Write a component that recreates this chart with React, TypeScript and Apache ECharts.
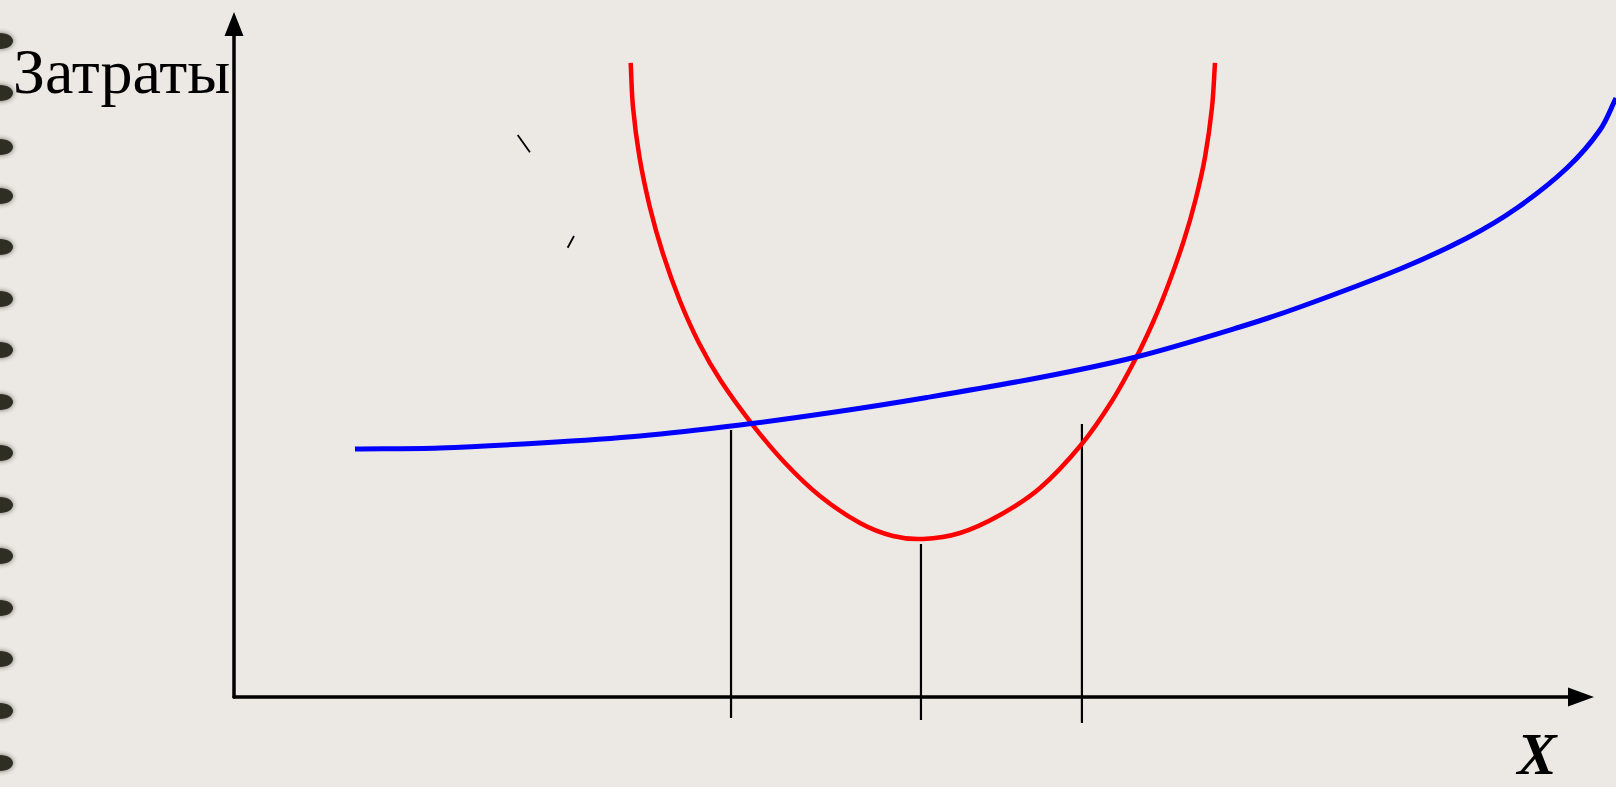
import React, { useEffect, useRef } from "react";
import * as echarts from "echarts";

// Red curve (U-shaped): x = output units, y = cost units
const redX = [29.45, 29.62, 30.1, 30.87, 31.83, 33.08, 34.52, 36.15, 38.46, 40.91, 43.5, 46.47, 48.92, 51.15, 53.9, 56.87, 59.84, 62.88, 65.18, 67.0, 68.3, 69.41, 70.53, 71.38, 72.09, 72.61, 72.83];
const redY = [94.21, 87.67, 80.24, 72.81, 65.97, 58.99, 52.6, 46.95, 40.56, 34.77, 29.87, 25.85, 23.92, 23.48, 24.37, 27.04, 31.05, 37.44, 43.98, 50.52, 56.02, 61.52, 67.9, 73.85, 80.24, 87.67, 94.21];

// Blue curve (rising)
const blueX = [8.98, 15.29, 22.72, 30.14, 37.56, 44.62, 51.45, 59.84, 66.96, 74.68, 79.14, 86.56, 91.54, 95.25, 98.96, 101.41, 102.6];
const blueY = [36.85, 37.0, 37.74, 38.78, 40.42, 42.35, 44.51, 47.47, 50.52, 54.98, 57.95, 63.6, 68.2, 72.66, 78.6, 84.25, 89.0];

// Vertical drop lines
const dropX = [36.9, 51.0, 62.95];
const dropTop = [39.67, 22.73, 40.56];
const dropBottom = [-3.12, -3.42, -3.86];

// Two small stray strokes
const strokeA = [[21.06, 83.51], [21.97, 80.94]];
const strokeB = [[25.24, 68.5], [24.77, 66.76]];

// Texts
const yTitle = "Затраты";
const xTitle = "X";

// Binding-hole decoration rows on the left edge
const holeRows = [41, 93, 147, 196, 247, 299, 350, 402, 453, 505, 556, 608, 659, 711, 763];

// Smooth path through pixel points (chord-length Hermite spline)
function smoothPath(pts: number[][]): string {
  const n = pts.length;
  const dist = (a: number[], b: number[]) => Math.hypot(b[0] - a[0], b[1] - a[1]);
  const tan = pts.map((p, i) => {
    if (i === 0) {
      const l = dist(pts[0], pts[1]);
      return [(pts[1][0] - p[0]) / l, (pts[1][1] - p[1]) / l];
    }
    if (i === n - 1) {
      const l = dist(pts[n - 2], p);
      return [(p[0] - pts[n - 2][0]) / l, (p[1] - pts[n - 2][1]) / l];
    }
    const l = dist(pts[i - 1], p) + dist(p, pts[i + 1]);
    return [(pts[i + 1][0] - pts[i - 1][0]) / l, (pts[i + 1][1] - pts[i - 1][1]) / l];
  });
  let d = `M${pts[0][0]},${pts[0][1]}`;
  for (let i = 0; i < n - 1; i++) {
    const a = pts[i];
    const b = pts[i + 1];
    const l = dist(a, b) / 3;
    d += ` C${a[0] + tan[i][0] * l},${a[1] + tan[i][1] * l} ${b[0] - tan[i + 1][0] * l},${b[1] - tan[i + 1][1] * l} ${b[0]},${b[1]}`;
  }
  return d;
}

export default function App() {
  const ref = useRef<HTMLDivElement>(null);

  useEffect(() => {
    const chart = echarts.init(ref.current!, null, { renderer: "svg" });
    const zip = (xs: number[], ys: number[]) => xs.map((x, i) => [x, ys[i]]);

    const seg = (data: number[][], color: string, width: number) => ({
      type: "line",
      xAxisIndex: 1,
      yAxisIndex: 1,
      data,
      symbol: "none",
      clip: false,
      silent: true,
      lineStyle: { color, width, cap: "butt" },
      z: 3,
    });

    const curve = (xs: number[], ys: number[], color: string, width: number) => ({
      type: "custom",
      coordinateSystem: "cartesian2d",
      xAxisIndex: 1,
      yAxisIndex: 1,
      data: zip(xs, ys),
      encode: { x: 0, y: 1 },
      clip: false,
      silent: true,
      z: 4,
      renderItem: (params: any, api: any) => {
        if (params.dataIndex !== 0) return null;
        const pts = xs.map((x, i) => api.coord([x, ys[i]]));
        return {
          type: "path",
          shape: { pathData: smoothPath(pts) },
          style: { fill: "none", stroke: color, lineWidth: width, lineCap: "butt" },
        };
      },
    });

    const series: any[] = [];
    dropX.forEach((x, i) => {
      series.push(seg([[x, dropTop[i]], [x, dropBottom[i]]], "#000000", 2.2));
    });
    series.push(seg(strokeA, "#000000", 1.8));
    series.push(seg(strokeB, "#000000", 1.8));
    series.push(curve(redX, redY, "#ff0000", 4.5));
    series.push(curve(blueX, blueY, "#0000ff", 5));

    const hidden = {
      axisTick: { show: false },
      axisLabel: { show: false },
      splitLine: { show: false },
    };

    const graphics: any[] = holeRows.map((y) => ({
      type: "ellipse",
      shape: { cx: 0, cy: y, rx: 13, ry: 8 },
      style: { fill: "#2e2e22", shadowBlur: 5, shadowColor: "rgba(40,40,28,0.7)" },
      silent: true,
    }));
    graphics.push({
      type: "text",
      x: 13,
      y: 71,
      silent: true,
      style: {
        text: yTitle,
        fontSize: 64,
        fontFamily: "Liberation Serif",
        fill: "#000",
        align: "left",
        verticalAlign: "middle",
      },
    });
    graphics.push({
      type: "text",
      x: 1537,
      y: 754,
      silent: true,
      style: {
        text: xTitle,
        fontSize: 59,
        lineHeight: 40,
        fontFamily: "Liberation Serif",
        fontWeight: "bold",
        fontStyle: "italic",
        fill: "#000",
        align: "center",
        verticalAlign: "middle",
      },
    });

    chart.setOption({
      animation: false,
      backgroundColor: "#ece8e4",
      grid: [
        { left: 234, right: 35, top: 24, bottom: 90 },
        { left: 234, right: 0, top: 24, bottom: 90 },
      ],
      xAxis: [
        {
          type: "value",
          gridIndex: 0,
          min: 0,
          max: 100,
          ...hidden,
          axisLine: {
            show: true,
            onZero: false,
            symbol: ["none", "triangle"],
            symbolSize: [19, 26],
            lineStyle: { color: "#000", width: 3.5 },
          },
        },
        {
          type: "value",
          gridIndex: 1,
          min: 0,
          max: 102.6,
          ...hidden,
          axisLine: { show: false },
        },
      ],
      yAxis: [
        {
          type: "value",
          gridIndex: 0,
          min: 0,
          max: 100,
          ...hidden,
          axisLine: {
            show: true,
            onZero: false,
            symbol: ["none", "triangle"],
            symbolSize: [19, 24],
            lineStyle: { color: "#000", width: 3.5 },
          },
        },
        {
          type: "value",
          gridIndex: 1,
          min: 0,
          max: 100,
          ...hidden,
          axisLine: { show: false },
        },
      ],
      graphic: graphics,
      series,
    });

    return () => chart.dispose();
  }, []);

  return (
    <div
      ref={ref}
      style={{ position: "fixed", left: 0, top: 0, width: 1616, height: 787 }}
    />
  );
}
